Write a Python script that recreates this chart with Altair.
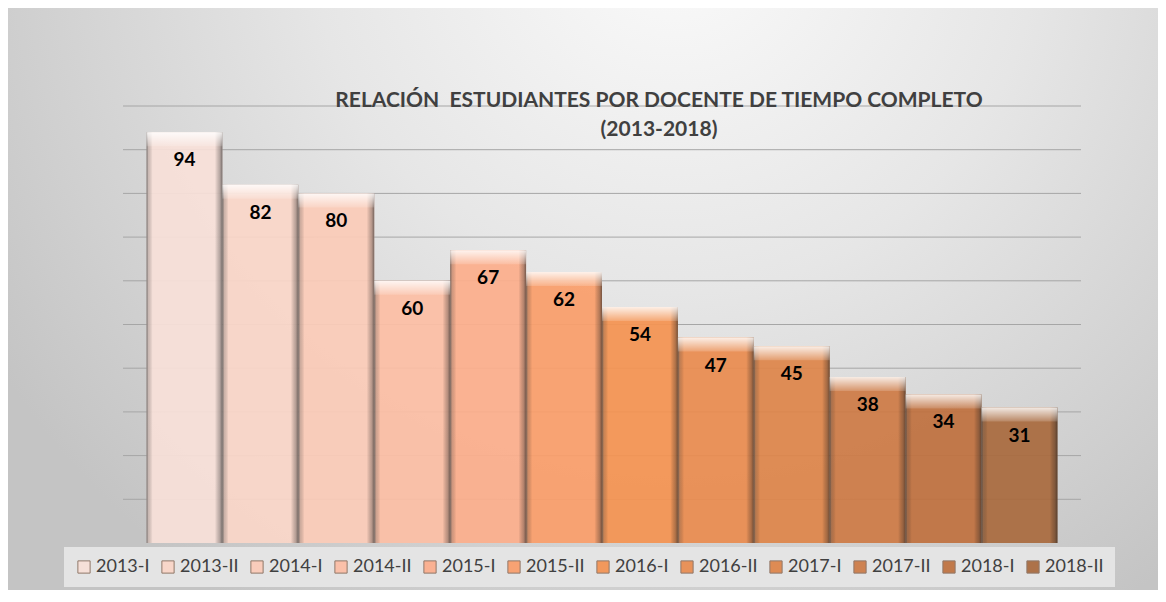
import altair as alt
import pandas as pd

periods = ["2013-I", "2013-II", "2014-I", "2014-II", "2015-I", "2015-II",
           "2016-I", "2016-II", "2017-I", "2017-II", "2018-I", "2018-II"]
values = [94, 82, 80, 60, 67, 62, 54, 47, 45, 38, 34, 31]
colors = ["#f8e0d8", "#fad6c8", "#fbcbb8", "#fcbea5", "#fcae8c", "#fa9e6b",
          "#f49352", "#e98c50", "#de854a", "#cd7b46", "#bf713f", "#a96a3e"]
grid_ticks = [10, 20, 30, 40, 50, 60, 70, 80, 90, 100]
title_lines = ["RELACIÓN \u00a0ESTUDIANTES POR DOCENTE DE TIEMPO COMPLETO", "(2013-2018)"]

df = pd.DataFrame({"periodo": periods, "valor": values})
grid_df = pd.DataFrame({"v": grid_ticks})

W, H = 958, 437
PAD = {"left": 115, "top": 98, "right": 77, "bottom": 47}

xenc = alt.X("periodo:N", sort=periods,
             scale=alt.Scale(paddingInner=0, paddingOuter=0.31),
             axis=alt.Axis(labels=False, ticks=False, title=None, grid=False,
                           domainColor="#404040", domainWidth=4))
yscale = alt.Scale(domain=[0, 100], nice=False)

bg = alt.Chart(pd.DataFrame({"a": [0]})).mark_rect(
    fill=alt.RadialGradient(
        gradient="radial", x1=0.58, y1=0.18, r1=0, x2=0.58, y2=0.18, r2=0.7,
        stops=[alt.GradientStop(offset=0, color="#fbfbfb"),
               alt.GradientStop(offset=0.45, color="#e6e6e6"),
               alt.GradientStop(offset=1, color="#c4c4c4")])
).encode(
    x=alt.value(-PAD["left"]), x2=alt.value(W + PAD["right"]),
    y=alt.value(-PAD["top"]), y2=alt.value(H + PAD["bottom"])
)

grid = alt.Chart(grid_df).mark_rule(color="#a6a6a6", strokeWidth=1).encode(
    y=alt.Y("v:Q", scale=yscale, axis=None)
)

bars = alt.Chart(df).mark_bar(opacity=0.93).encode(
    x=xenc,
    y=alt.Y("valor:Q", scale=yscale, axis=None),
    color=alt.Color("periodo:N", sort=periods,
                    scale=alt.Scale(domain=periods, range=colors),
                    legend=alt.Legend(title=None, orient="none", legendX=-59, legendY=441,
                                      direction="horizontal", columns=12,
                                      fillColor="#e4e4e4", padding=11,
                                      symbolType="square", symbolSize=150,
                                      symbolStrokeColor="#8a7060", symbolStrokeWidth=1,
                                      labelFont="Lato", labelFontSize=18,
                                      labelColor="#404040", labelOffset=3,
                                      columnPadding=9))
)

side_shade = alt.Chart(df).mark_bar(
    fill=alt.LinearGradient(
        gradient="linear", x1=0, y1=0, x2=1, y2=0,
        stops=[alt.GradientStop(offset=0, color="rgba(70,70,70,0.75)"),
               alt.GradientStop(offset=0.025, color="rgba(70,70,70,0.25)"),
               alt.GradientStop(offset=0.08, color="rgba(0,0,0,0)"),
               alt.GradientStop(offset=0.9, color="rgba(0,0,0,0)"),
               alt.GradientStop(offset=0.965, color="rgba(30,30,30,0.3)"),
               alt.GradientStop(offset=1, color="rgba(30,30,30,0.6)")])
).encode(x=xenc, y=alt.Y("valor:Q", scale=yscale, axis=None))

top_bevel = alt.Chart(df).mark_bar(
    y2Offset=14,
    fill=alt.LinearGradient(
        gradient="linear", x1=0, y1=0, x2=0, y2=1,
        stops=[alt.GradientStop(offset=0, color="rgba(255,255,255,0.85)"),
               alt.GradientStop(offset=1, color="rgba(255,255,255,0.15)")])
).encode(x=xenc, y=alt.Y("valor:Q", scale=yscale, axis=None), y2="valor:Q")

labels = alt.Chart(df).mark_text(
    dy=28, baseline="middle", align="center", font="Lato", fontSize=19,
    fontWeight="bold", color="#000000"
).encode(x=xenc, y=alt.Y("valor:Q", scale=yscale, axis=None), text="valor:Q")

chart = alt.layer(bg, grid, bars, side_shade, top_bevel, labels).properties(
    width=W, height=H,
    autosize=alt.AutoSizeParams(type="none"),
    padding=PAD,
    title=alt.TitleParams(text=title_lines, font="Lato", fontSize=21, fontWeight="bold",
                          color="#404040", anchor="middle", dx=57, offset=-132,
                          lineHeight=29)
).configure_view(strokeWidth=0).configure(background="white")

chart.save("out.html", embed_options={"renderer": "svg", "actions": False})
